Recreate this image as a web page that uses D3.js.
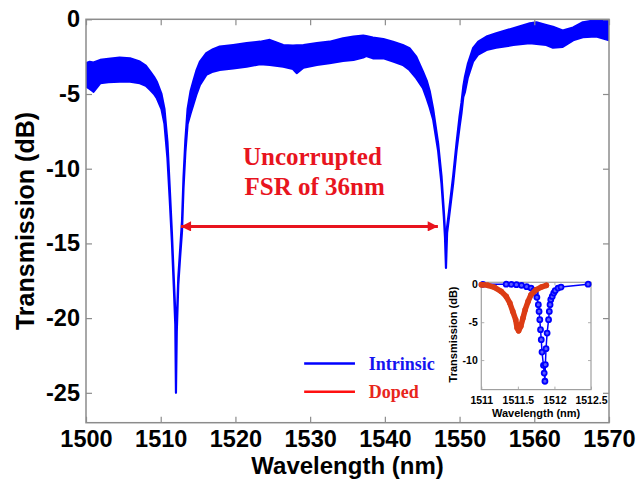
<!DOCTYPE html>
<html>
<head>
<meta charset="utf-8">
<script src="https://cdn.jsdelivr.net/npm/d3@7"></script>
<style>
  body { margin: 0; background: #fff; }
  svg { display: block; }
</style>
</head>
<body>
<svg id="chart" width="638" height="479"></svg>
<script>
// main spectrum: wavelength (nm) and the top / bottom edge of the noisy trace (dB)
const wl = [1500.0, 1500.5, 1501.0, 1501.9, 1503.0, 1504.5, 1505.9, 1507.2, 1508.0, 1508.6, 1509.1, 1509.5,
  1510.1, 1510.5, 1510.9, 1511.2, 1511.5, 1511.75, 1511.95, 1512.04, 1512.15, 1512.35, 1512.6, 1512.85,
  1513.05, 1513.3, 1513.6, 1514.0, 1514.35, 1514.8, 1515.25, 1516.1, 1517.0, 1517.9, 1519.7, 1521.5,
  1523.3, 1524.6, 1526.4, 1527.7, 1528.2, 1529.1, 1530.9, 1532.6, 1534.4, 1535.8, 1537.1, 1537.5,
  1538.4, 1539.8, 1541.1, 1542.4, 1543.3, 1544.2, 1545.1, 1545.6, 1546.0, 1546.46, 1547.13, 1547.58,
  1547.89, 1548.05, 1548.18, 1548.33, 1548.6, 1549.14, 1549.59, 1550.0, 1550.25, 1550.5, 1550.7, 1551.1,
  1551.8, 1552.5, 1553.6, 1554.9, 1557.2, 1559.4, 1560.3, 1561.6, 1562.5, 1563.8, 1565.2, 1566.5,
  1568.3, 1570.0];
const upper = [-2.94, -2.85, -2.9, -2.72, -2.65, -2.57, -2.61, -2.83, -3.1, -3.5, -3.85, -4.2,
  -5.0, -6.0, -8.2, -11.2, -14.3, -17.3, -19.6, -24.6, -20.3, -17.3, -15.4, -13.5,
  -10.6, -8.1, -6.0, -4.8, -4.17, -3.4, -2.83, -2.27, -2.0, -1.83, -1.72, -1.6,
  -1.5, -1.38, -1.72, -1.76, -1.74, -1.72, -1.6, -1.5, -1.27, -1.16, -1.09, -1.12,
  -1.23, -1.32, -1.5, -1.72, -1.94, -2.5, -3.5, -4.1, -4.8, -6.0, -8.3, -10.5,
  -12.8, -14.2, -16.3, -13.9, -12.8, -10.5, -8.3, -6.5, -5.6, -4.5, -3.9, -3.0,
  -1.94, -1.5, -1.16, -0.94, -0.6, -0.27, -0.2, -0.38, -0.5, -0.75, -0.55, -0.2,
  -0.05, -0.02];
const lower = [-4.5, -4.65, -4.85, -4.28, -4.2, -4.17, -4.17, -4.28, -4.45, -4.73, -5.0, -5.3,
  -6.0, -7.0, -9.3, -12.0, -14.9, -17.9, -20.4, -25.0, -20.9, -17.8, -15.9, -14.2,
  -11.3, -8.9, -7.0, -6.3, -5.73, -5.0, -4.39, -3.72, -3.5, -3.39, -3.28, -3.17,
  -3.01, -3.05, -3.17, -3.32, -3.6, -3.23, -3.05, -2.94, -2.79, -2.72, -2.55, -2.45,
  -2.61, -2.61, -2.83, -3.05, -3.39, -3.94, -4.61, -5.3, -5.9, -6.7, -8.8, -11.0,
  -13.2, -14.6, -16.64, -14.3, -13.2, -11.0, -8.8, -7.2, -6.3, -5.2, -4.9, -3.9,
  -2.83, -2.35, -2.05, -1.9, -1.72, -1.6, -1.65, -1.72, -1.9, -1.85, -1.4, -1.2,
  -1.15, -1.4];

const xTicks = [1500, 1510, 1520, 1530, 1540, 1550, 1560, 1570];
const yTicks = [0, -5, -10, -15, -20, -25];

// inset: single resonance, intrinsic vs doped
const intrinsicWl = [1511.02, 1511.34, 1511.41, 1511.48, 1511.55, 1511.62, 1511.68, 1511.72, 1511.74, 1511.76,
  1511.78, 1511.79, 1511.8, 1511.81, 1511.82, 1511.83, 1511.85, 1511.86, 1511.87, 1511.876, 1511.885,
  1511.9, 1511.92, 1511.93, 1511.94, 1511.95, 1511.97, 1511.99, 1512.01, 1512.05, 1512.09, 1512.46];
const intrinsicDb = [0, 0.02, 0, -0.04, -0.13, -0.31, -0.49, -0.84, -1.15, -1.72,
  -2.69, -3.57, -4.67, -5.99, -7.31, -8.94, -10.7, -11.72, -12.8, -10.6, -8.5,
  -6.43, -4.67, -3.57, -2.69, -2.03, -1.59, -1.15, -0.84, -0.49, -0.36, 0.02];
const dopedWl = [1511.0, 1511.02, 1511.09, 1511.18, 1511.27, 1511.34, 1511.39, 1511.43, 1511.47, 1511.49,
  1511.51, 1511.54, 1511.57, 1511.6, 1511.64, 1511.68, 1511.75, 1511.82, 1511.89];
const dopedDb = [-0.04, -0.05, -0.13, -0.4, -0.92, -1.59, -2.47, -3.57, -4.67, -5.77,
  -6.13, -5.55, -4.45, -3.35, -2.25, -1.37, -0.71, -0.36, -0.13];

const insetXTicks = [1511, 1511.5, 1512, 1512.5];
const insetYTicks = [0, -5, -10];

const legendNames = ['Intrinsic', 'Doped'];
const legendColors = ['#1414f0', '#e8261c'];

const BLUE = '#0000ff';
const RED = '#e8141e';
const FRAME = '#8c8c8c';
const sans = '"Liberation Sans", Arial, sans-serif';
const serif = '"Liberation Serif", "Times New Roman", serif';

const margin = {top: 19.3, right: 29, bottom: 56.3, left: 86};
const width = 638 - margin.left - margin.right;
const height = 479 - margin.top - margin.bottom;

const svg = d3.select('#chart');
const g = svg.append('g').attr('transform', 'translate(' + margin.left + ',' + margin.top + ')');

const x = d3.scaleLinear().domain([1500, 1570]).range([0, width]);
const y = d3.scaleLinear().domain([-27, 0]).range([height, 0]);

g.append('clipPath').attr('id', 'plotclip')
  .append('rect').attr('width', width).attr('height', height);

// noisy trace as a band between its two edges
const spec = wl.map((w, i) => ({w: w, hi: upper[i], lo: lower[i]}));
g.append('path')
  .datum(spec)
  .attr('clip-path', 'url(#plotclip)')
  .attr('fill', BLUE)
  .attr('stroke', BLUE)
  .attr('stroke-width', 2.2)
  .attr('stroke-linejoin', 'round')
  .attr('d', d3.area()
    .x(d => x(d.w))
    .y0(d => y(d.lo))
    .y1(d => y(d.hi)));

// axes, ticks pointing in
const xAxis = g.append('g')
  .attr('transform', 'translate(0,' + height + ')')
  .call(d3.axisBottom(x).tickValues(xTicks).tickSizeInner(-6).tickSizeOuter(0).tickPadding(8).tickFormat(d3.format('d')));
const yAxis = g.append('g')
  .call(d3.axisLeft(y).tickValues(yTicks).tickSizeInner(-6).tickSizeOuter(0).tickPadding(6).tickFormat(d3.format('d')));
g.append('g')
  .call(d3.axisTop(x).tickValues(xTicks).tickSizeInner(-6).tickSizeOuter(0).tickFormat(''));
g.append('g')
  .attr('transform', 'translate(' + width + ',0)')
  .call(d3.axisRight(y).tickValues(yTicks).tickSizeInner(-6).tickSizeOuter(0).tickFormat(''));

g.selectAll('.domain').remove();
g.selectAll('.tick line').attr('stroke', FRAME).attr('stroke-width', 1.2);
[xAxis, yAxis].forEach(a => a.selectAll('text')
  .attr('fill', '#000')
  .style('font-family', sans)
  .style('font-weight', 'bold')
  .style('font-size', '23.5px'));
yAxis.selectAll('text').text(d => d === 0 ? '0' : '-' + Math.abs(d));

g.append('rect')
  .attr('width', width).attr('height', height)
  .attr('fill', 'none').attr('stroke', FRAME).attr('stroke-width', 1.5);

svg.append('text')
  .attr('x', margin.left + width / 2).attr('y', 473.6)
  .attr('text-anchor', 'middle')
  .style('font-family', sans).style('font-weight', 'bold').style('font-size', '24px')
  .text('Wavelength (nm)');
svg.append('text')
  .attr('transform', 'translate(34,' + (margin.top + height / 2) + ') rotate(-90)')
  .attr('text-anchor', 'middle')
  .style('font-family', sans).style('font-weight', 'bold').style('font-size', '25px')
  .text('Transmission (dB)');

// FSR annotation
const defs = svg.append('defs');
defs.append('marker').attr('id', 'head')
  .attr('viewBox', '0 0 10 10').attr('refX', 10).attr('refY', 5)
  .attr('markerWidth', 4.6).attr('markerHeight', 3.4).attr('markerUnits', 'strokeWidth')
  .attr('orient', 'auto-start-reverse')
  .append('path').attr('d', 'M0,0 L10,5 L0,10 Z').attr('fill', RED);

g.append('line')
  .attr('x1', x(1512.7)).attr('x2', x(1547.1))
  .attr('y1', y(-13.86)).attr('y2', y(-13.86))
  .attr('stroke', RED).attr('stroke-width', 3)
  .attr('marker-start', 'url(#head)').attr('marker-end', 'url(#head)');

const note = g.append('text')
  .attr('text-anchor', 'middle')
  .attr('fill', RED)
  .style('font-family', serif).style('font-weight', 'bold').style('font-size', '25px');
note.append('tspan').attr('x', x(1530.3)).attr('y', y(-9.75)).text('Uncorrupted');
note.append('tspan').attr('x', x(1530.6)).attr('y', y(-11.75)).text('FSR of 36nm');

// legend
const legend = g.append('g');
legendNames.forEach((name, i) => {
  const ly = y(-23.04 - i * 1.89);
  legend.append('line')
    .attr('x1', x(1529.2)).attr('x2', x(1536.0))
    .attr('y1', ly).attr('y2', ly)
    .attr('stroke', i === 0 ? BLUE : '#ff1010').attr('stroke-width', 2.6);
  legend.append('text')
    .attr('x', x(1537.85)).attr('y', ly + 6)
    .attr('fill', legendColors[i])
    .style('font-family', serif).style('font-weight', 'bold').style('font-size', '18px')
    .text(name);
});

// inset
const inset = {left: 481.3, top: 282.3, width: 109.7, height: 107.3};
const ig = svg.append('g').attr('transform', 'translate(' + inset.left + ',' + inset.top + ')');
const ix = d3.scaleLinear().domain([1511, 1512.5]).range([0, inset.width]);
const iy = d3.scaleLinear().domain([-13.9, 0.27]).range([inset.height, 0]);

ig.append('rect').attr('width', inset.width).attr('height', inset.height).attr('fill', '#fff');
ig.append('clipPath').attr('id', 'insetclip')
  .append('rect').attr('x', -3).attr('y', -3).attr('width', inset.width + 6).attr('height', inset.height + 6);

const ixAxis = ig.append('g')
  .attr('transform', 'translate(0,' + inset.height + ')')
  .call(d3.axisBottom(ix).tickValues(insetXTicks).tickSizeInner(-3).tickSizeOuter(0).tickPadding(7).tickFormat(d => String(d)));
const iyAxis = ig.append('g')
  .call(d3.axisLeft(iy).tickValues(insetYTicks).tickSizeInner(-3).tickSizeOuter(0).tickPadding(3.5).tickFormat(d => d === 0 ? '0' : '-' + Math.abs(d)));
ig.append('g')
  .call(d3.axisTop(ix).tickValues(insetXTicks).tickSizeInner(-3).tickSizeOuter(0).tickFormat(''));
ig.append('g')
  .attr('transform', 'translate(' + inset.width + ',0)')
  .call(d3.axisRight(iy).tickValues(insetYTicks).tickSizeInner(-3).tickSizeOuter(0).tickFormat(''));
ig.selectAll('.domain').remove();
ig.selectAll('.tick line').attr('stroke', '#b0b0b0');
[ixAxis, iyAxis].forEach(a => a.selectAll('text')
  .attr('fill', '#000')
  .style('font-family', sans).style('font-weight', 'bold').style('font-size', '10.5px'));

ig.append('rect')
  .attr('width', inset.width).attr('height', inset.height)
  .attr('fill', 'none').attr('stroke', '#a0a0a0').attr('stroke-width', 1.2);

const intrinsic = intrinsicWl.map((w, i) => ({w: w, t: intrinsicDb[i]}));
const doped = dopedWl.map((w, i) => ({w: w, t: dopedDb[i]}));
const iline = d3.line().x(d => ix(d.w)).y(d => iy(d.t));

const DOPED = '#dc3c14';
ig.append('path').datum(intrinsic)
  .attr('clip-path', 'url(#insetclip)')
  .attr('fill', 'none').attr('stroke', BLUE).attr('stroke-width', 1.5)
  .attr('d', iline);
ig.append('g').attr('clip-path', 'url(#insetclip)')
  .selectAll('circle').data(intrinsic).enter().append('circle')
  .attr('cx', d => ix(d.w)).attr('cy', d => iy(d.t)).attr('r', 2.5)
  .attr('fill', '#5a5aff').attr('stroke', BLUE).attr('stroke-width', 1.8);

ig.append('path').datum(doped)
  .attr('clip-path', 'url(#insetclip)')
  .attr('fill', 'none').attr('stroke', DOPED).attr('stroke-width', 5.5)
  .attr('stroke-linejoin', 'round').attr('stroke-linecap', 'round')
  .attr('d', iline);
ig.append('g').attr('clip-path', 'url(#insetclip)')
  .selectAll('circle').data(doped).enter().append('circle')
  .attr('cx', d => ix(d.w)).attr('cy', d => iy(d.t)).attr('r', 2.8)
  .attr('fill', DOPED);

svg.append('text')
  .attr('x', inset.left + inset.width / 2).attr('y', 416.5)
  .attr('text-anchor', 'middle')
  .style('font-family', sans).style('font-weight', 'bold').style('font-size', '11px')
  .text('Wavelength (nm)');
svg.append('text')
  .attr('transform', 'translate(457,' + (inset.top + inset.height / 2 - 1.5) + ') rotate(-90)')
  .attr('text-anchor', 'middle')
  .style('font-family', sans).style('font-weight', 'bold').style('font-size', '11px')
  .text('Transmission (dB)');
</script>
</body>
</html>
